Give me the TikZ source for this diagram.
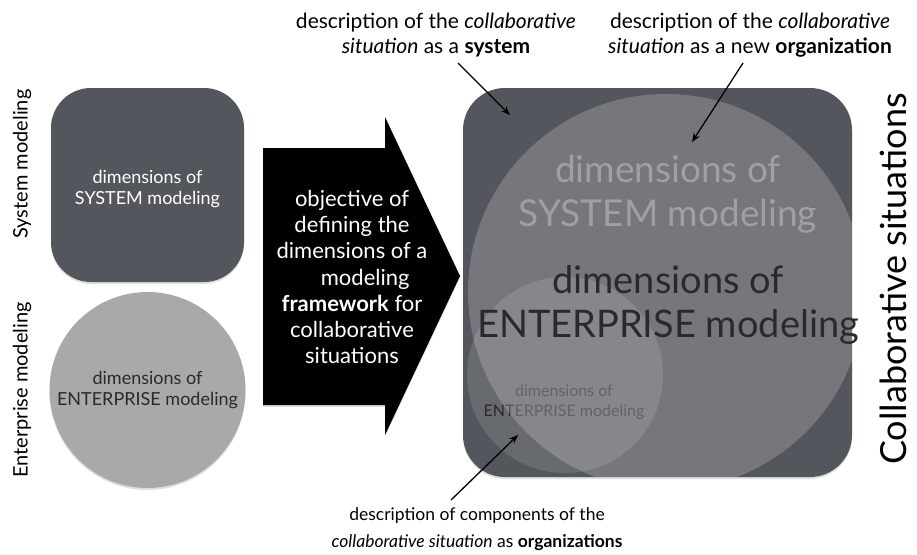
\documentclass[tikz,border=0pt]{standalone}
\usepackage{fontspec}
\setmainfont{Lato}
\usetikzlibrary{arrows.meta,shadows}
\definecolor{boxdark}{HTML}{53565C}
\definecolor{circgray}{HTML}{A9A9A9}
\definecolor{darktext}{HTML}{2A2A2C}
\definecolor{lighttext}{HTML}{9EA0A2}
\tikzset{
  note/.style={align=center, text=black, inner sep=0pt},
  sidelabel/.style={rotate=90, text=black, inner sep=0pt},
  pointer/.style={draw=black, line width=1.3pt, -{Stealth[length=9pt,width=7pt]}},
  softshadow/.style={drop shadow={opacity=0.25, shadow xshift=0pt, shadow yshift=-2pt}},
}
\begin{document}
\begin{tikzpicture}[x=1pt,y=-1pt]
\useasboundingbox (0,0) rectangle (917,554);

% side labels
\node[sidelabel, font=\fontsize{20}{24}\selectfont] (syslab) at (22,164) {System modeling};
\node[sidelabel, font=\fontsize{20}{24}\selectfont] (entlab) at (22,390) {Enterprise modeling};
\node[sidelabel, font=\fontsize{36}{40}\selectfont] (colllab) at (893,279) {Collaborative situations};

% left shapes
\node[fill=boxdark, rounded corners=40pt, minimum width=193pt, minimum height=194pt, softshadow] (sysbox) at (147.5,185) {};
\node[align=center, text=white, font=\fontsize{18}{21}\selectfont, inner sep=0pt] (systext) at (147.5,189)
      {dimensions of\\SYSTEM modeling};
\node[circle, fill=circgray, minimum size=196pt, inner sep=0pt, softshadow,
      text=darktext, align=center, font=\fontsize{18}{21}\selectfont] (entcirc) at (147.5,390)
      {dimensions of\\ENTERPRISE modeling};

% big black arrow
\fill[black, softshadow] (263,148) -- (385,148) -- (385,117) -- (460,276) -- (385,435) -- (385,405) -- (263,405) -- cycle;
\node[align=center, text=white, font=\fontsize{22}{26.3}\selectfont, inner sep=0pt] (objtxt) at (352,277)
  {objective of\\defining the\\dimensions of a\\\hspace*{1.2em}modeling\\\textbf{framework} for\\collaborative\\situations};

% big box
\node[fill=boxdark, rounded corners=42pt, minimum width=389pt, minimum height=389pt, softshadow] (collbox) at (657.5,282.5) {};
\begin{scope}
  \clip[rounded corners=42pt] (463,88) rectangle (852,477);
  \fill[white, opacity=0.12] (565,375) circle (98);
  \node[align=center, font=\fontsize{16}{20}\selectfont, inner sep=0pt] (smalltxt) at (564,402)
    {\textcolor{boxdark!70!black}{dimensions of}\\\textcolor{darktext}{ENT}\textcolor{boxdark!70!black}{ERPRISE modeling}};
  \fill[white, opacity=0.2] (666,292) circle (198);
\end{scope}
\node[align=center, text=lighttext, font=\fontsize{37}{44}\selectfont, inner sep=0pt] (systxt) at (668,194)
  {dimensions of\\SYSTEM modeling};
\node[align=center, text=darktext, font=\fontsize{38}{44}\selectfont, inner sep=0pt] (enttxt) at (668,305)
  {dimensions of\\ENTERPRISE modeling};

% notes
\node[note, font=\fontsize{21}{25.5}\selectfont] (sysnote) at (436,35) {description of the \textit{collaborative}\\\textit{situation} as a \textbf{system}};
\node[note, font=\fontsize{21}{25.5}\selectfont] (orgnote) at (750,35) {description of the \textit{collaborative}\\\textit{situation} as a new \textbf{organization}};
\node[note, font=\fontsize{17.5}{27}\selectfont] (compnote) at (477,529) {description of components of the\\\textit{collaborative situation} as \textbf{organizations}};

\coordinate (sysfrom) at (458,63);
\coordinate (systo) at (510,115);
\coordinate (orgfrom) at (743,63);
\coordinate (orgto) at (692,142);
\coordinate (compfrom) at (451,500);
\coordinate (compto) at (518,435);
\draw[pointer] (sysfrom) -- (systo);
\draw[pointer] (orgfrom) -- (orgto);
\draw[pointer] (compfrom) -- (compto);
\end{tikzpicture}
\end{document}
